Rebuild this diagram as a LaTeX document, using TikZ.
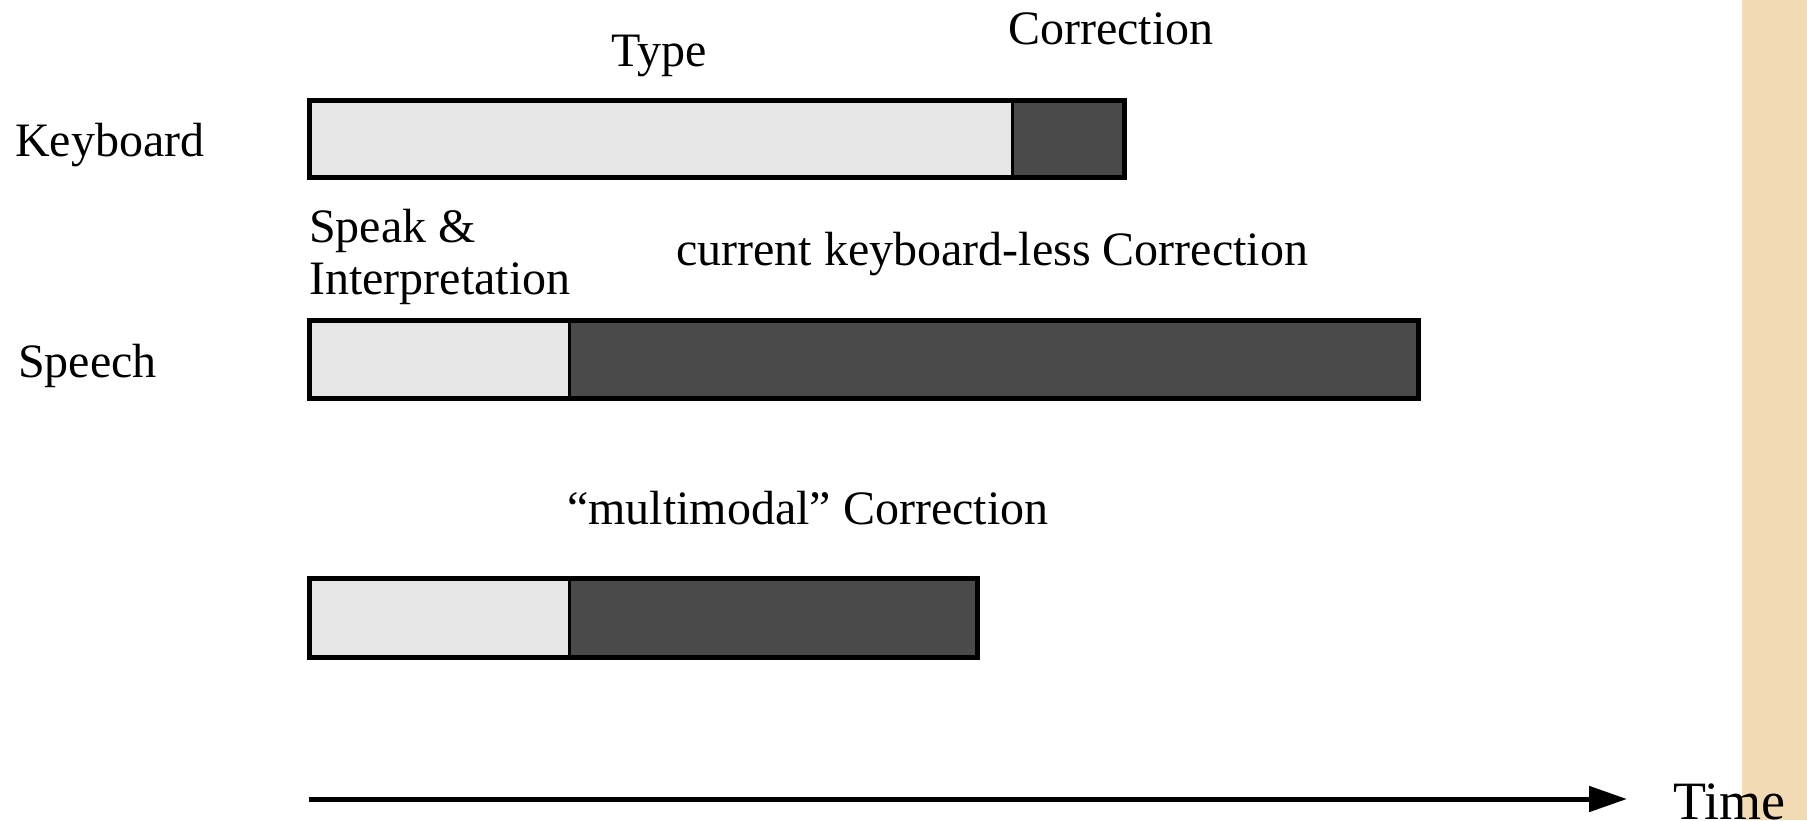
\documentclass[tikz,border=0pt]{standalone}
\usepackage{fontspec}
\setmainfont{Liberation Serif}
\usetikzlibrary{arrows.meta}
\definecolor{lightfill}{HTML}{E6E6E6}
\definecolor{darkfill}{HTML}{4A4A4A}
\definecolor{beige}{HTML}{F2DAB4}
\tikzset{
  lbl/.style={inner sep=0pt, font=\fontsize{48}{56}\selectfont, anchor=base west},
  lightseg/.style={fill=lightfill, draw=black, line width=3pt, inner sep=0pt, anchor=north west},
  darkseg/.style={fill=darkfill, draw=black, line width=3pt, inner sep=0pt, anchor=north west},
  frame/.style={draw=black, line width=4.5pt}
}
\begin{document}
\begin{tikzpicture}[x=1pt,y=-1pt]
\useasboundingbox (0,0) rectangle (1807,820);
\fill[beige] (1742,0) rectangle (1807,820);

% Keyboard row
\node[lbl] (type) at (611,66) {Type};
\node[lbl] (corr1) at (1008,44) {Correction};
\node[lbl] (kb) at (15,156) {Keyboard};
\node[lightseg, minimum width=702pt, minimum height=75pt] (kbtype) at (309,100) {};
\node[darkseg, minimum width=111pt, minimum height=75pt] (kbcorr) at (1011,100) {};
\draw[frame] (kbtype.north west) rectangle (kbcorr.south east);

% Speech row
\node[lbl] (speak) at (309,242) {Speak \&};
\node[lbl] (interp) at (309,294) {Interpretation};
\node[lbl] (curr) at (676,265) {current keyboard-less Correction};
\node[lbl] (speech) at (18,377) {Speech};
\node[lightseg, minimum width=259pt, minimum height=76pt] (spint) at (309,320) {};
\node[darkseg, minimum width=848pt, minimum height=76pt] (spcorr) at (568,320) {};
\draw[frame] (spint.north west) rectangle (spcorr.south east);

% Multimodal row
\node[lbl] (multi) at (567,524) {“multimodal” Correction};
\node[lightseg, minimum width=259pt, minimum height=77pt] (mmint) at (309,578) {};
\node[darkseg, minimum width=407pt, minimum height=77pt] (mmcorr) at (568,578) {};
\draw[frame] (mmint.north west) rectangle (mmcorr.south east);

% Time axis
\coordinate (t0) at (309,799);
\coordinate (t1) at (1627,799);
\node[lbl, font=\fontsize{54}{60}\selectfont] (time) at (1673,819) {Time};
\draw[line width=5pt, -{Triangle[length=38pt,width=25pt]}] (t0) -- (t1);
\end{tikzpicture}
\end{document}
